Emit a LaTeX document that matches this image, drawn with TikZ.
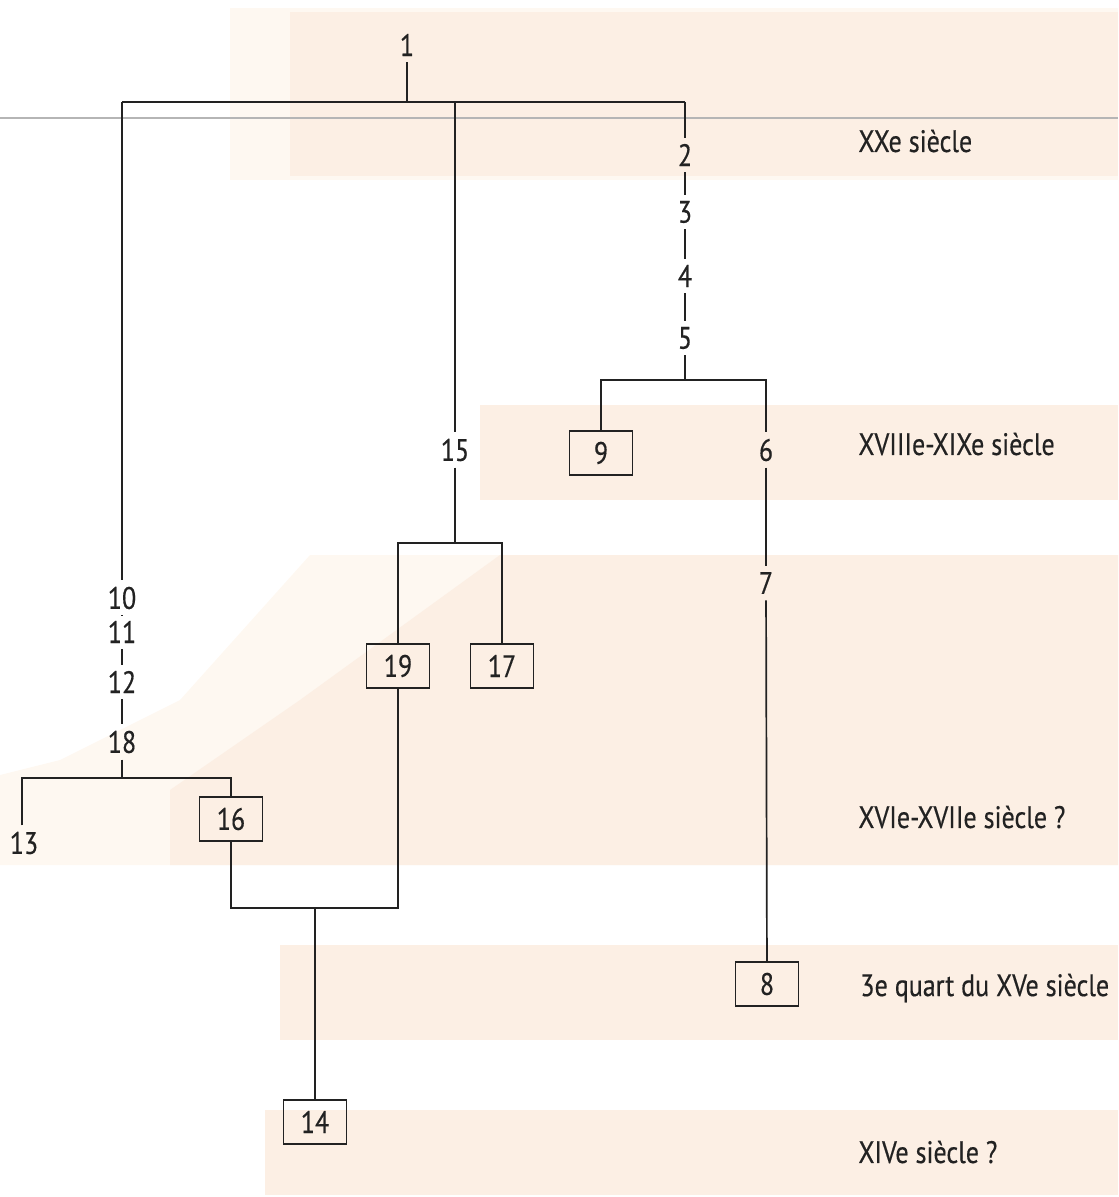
\documentclass[tikz,border=0pt]{standalone}
\usepackage{fontspec}
\setmainfont[FakeStretch=0.84,FakeBold=0.4]{PT Sans}
\definecolor{ink}{HTML}{222222}
\definecolor{bandc}{HTML}{FCEFE4}
\definecolor{bandl}{HTML}{FEF8F1}
\definecolor{rulec}{HTML}{B5B5B5}
\begin{document}
\begin{tikzpicture}[x=0.5pt,y=-0.5pt,
  font=\fontsize{15.5}{18}\selectfont,
  lbl/.style={inner sep=3pt, text=ink},
  era/.style={anchor=west, inner sep=0pt, text=ink},
  box/.style={draw=ink, line width=0.9pt, minimum width=31.5pt, minimum height=22pt, inner sep=0pt, text=ink},
  link/.style={draw=ink, line width=0.85pt},
  band/.style={fill=bandc, draw=none},
  lband/.style={fill=bandl, draw=none}]
\useasboundingbox (0,0) rectangle (1118,1197);
% bands
\fill[lband] (230,8) rectangle (1118,180);
\fill[band] (290,12) rectangle (1118,176);
\fill[band] (480,405) rectangle (1118,500);
\fill[lband] (310,555) -- (1118,555) -- (1118,865) -- (0,865) -- (0,775) -- (60,760) -- (180,700) -- cycle;
\fill[band] (500,555) -- (1118,555) -- (1118,865) -- (170,865) -- (170,790) -- (300,700) -- cycle;
\fill[band] (280,945) rectangle (1118,1040);
\fill[band] (265,1110) rectangle (1118,1195);
\draw[rulec, line width=1.2pt] (0,118) -- (1118,118);
% top
\node[lbl] (n1) at (407,45) {1};
\coordinate (top) at (407,102);
\coordinate (tl) at (122,102);
\coordinate (tm) at (455,102);
\coordinate (tr) at (685,102);
\draw[link] (n1) -- (top);
\draw[link] (tl) -- (tr);
% right branch
\node[lbl] (n2) at (685,155) {2};
\node[lbl] (n3) at (685,212) {3};
\node[lbl] (n4) at (685,276) {4};
\node[lbl] (n5) at (685,338) {5};
\draw[link] (tr) -- (n2);
\draw[link] (n2) -- (n3);
\draw[link] (n3) -- (n4);
\draw[link] (n4) -- (n5);
\coordinate (j5) at (685,380);
\node[box] (n9) at (601,453) {9};
\node[lbl] (n6) at (766,450) {6};
\node[lbl] (n7) at (766,583) {7};
\node[box] (n8) at (767,984) {8};
\draw[link] (n5) -- (j5);
\draw[link] (n9.north) |- (j5) -| (n6.north);
\draw[link] (n6) -- (n7);
\draw[link] (n7) -- (n8);
% middle branch
\node[lbl] (n15) at (455,450) {15};
\coordinate (j15) at (455,543);
\node[box] (n19) at (398,666) {19};
\node[box] (n17) at (502,666) {17};
\draw[link] (tm) -- (n15);
\draw[link] (n15) -- (j15);
\draw[link] (n19.north) |- (j15) -| (n17.north);
% left branch
\node[lbl] (n10) at (122,598) {10};
\node[lbl] (n11) at (122,632) {11};
\node[lbl] (n12) at (122,682) {12};
\node[lbl] (n18) at (122,742) {18};
\draw[link] (tl) -- (n10);
\draw[link] (n10) -- (n11);
\draw[link] (n11) -- (n12);
\draw[link] (n12) -- (n18);
\coordinate (j18) at (122,778);
\node[lbl] (n13) at (24,843) {13};
\node[box] (n16) at (231,819) {16};
\draw[link] (n18) -- (j18);
\draw[link] (n13.north -| 22,0) |- (j18) -| (n16.north);
% bottom
\coordinate (j14) at (315,908);
\node[box] (n14) at (315,1122) {14};
\draw[link] (n16.south) |- (j14) -| (n19.south);
\draw[link] (j14) -- (n14);
% eras
\node[era] (e1) at (858,141) {XXe siècle};
\node[era] (e2) at (858,444) {XVIIIe-XIXe siècle};
\node[era] (e3) at (858,817) {XVIe-XVIIe siècle ?};
\node[era] (e4) at (860,988) {3e quart du XVe siècle};
\node[era] (e5) at (858,1152) {XIVe siècle ?};
\end{tikzpicture}
\end{document}
